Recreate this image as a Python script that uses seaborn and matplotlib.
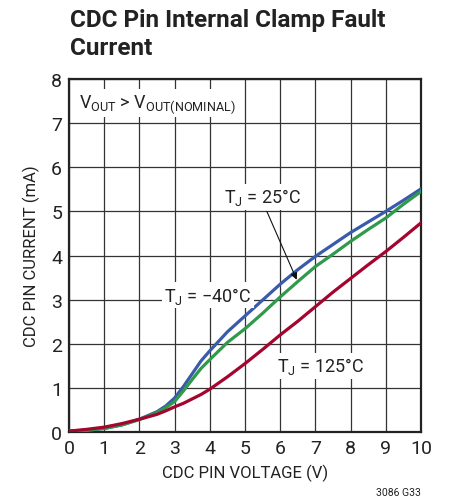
import matplotlib
matplotlib.use("Agg")
import matplotlib.pyplot as plt
import seaborn as sns
import pandas as pd

# Data
voltage = [0, 0.5, 1, 1.5, 2, 2.5, 2.75, 3, 3.25, 3.5, 3.75, 4, 4.5, 5, 5.5, 6, 6.5, 7, 7.5, 8, 8.5, 9, 9.5, 10]
i_25c = [0.02, 0.04, 0.08, 0.16, 0.29, 0.46, 0.59, 0.77, 1.03, 1.32, 1.61, 1.84, 2.27, 2.63, 2.99, 3.35, 3.68, 3.98, 4.25, 4.52, 4.76, 5.0, 5.25, 5.51]
i_m40c = [0.02, 0.04, 0.08, 0.16, 0.28, 0.44, 0.55, 0.69, 0.93, 1.19, 1.44, 1.64, 2.03, 2.34, 2.69, 3.06, 3.41, 3.75, 4.03, 4.32, 4.59, 4.85, 5.16, 5.45]
i_125c = [0.02, 0.06, 0.11, 0.19, 0.29, 0.40, 0.48, 0.57, 0.65, 0.75, 0.85, 0.97, 1.25, 1.55, 1.87, 2.2, 2.51, 2.84, 3.17, 3.48, 3.79, 4.09, 4.41, 4.74]
series_names = ["TJ = 25°C", "TJ = −40°C", "TJ = 125°C"]
colors = ["#3a5aaa", "#2f9a4a", "#a3052e"]
x_ticks = list(range(0, 11))
y_ticks = list(range(0, 9))

df = pd.concat([
    pd.DataFrame({"V": voltage, "I": vals, "T": name})
    for vals, name in zip([i_25c, i_m40c, i_125c], series_names)
])

sns.set_theme(style="white")
FONT = ["Roboto", "DejaVu Sans"]
plt.rcParams["font.family"] = FONT
plt.rcParams["mathtext.fontset"] = "custom"
plt.rcParams["mathtext.rm"] = "Roboto"

fig = plt.figure(figsize=(4.51, 5.02), dpi=100)
ax = fig.add_axes([69 / 451, 69 / 502, 352 / 451, 353 / 502])

sns.lineplot(data=df, x="V", y="I", hue="T", hue_order=series_names,
             palette=colors, linewidth=2.3, ax=ax, legend=False, zorder=3)

ax.set_xlim(0, 10)
ax.set_ylim(0, 8)
ax.set_xticks(x_ticks)
ax.set_yticks(y_ticks)
ax.set_xticklabels([str(t) for t in x_ticks], fontsize=14)
ax.set_yticklabels([str(t) for t in y_ticks], fontsize=14)
ax.tick_params(axis="both", length=0, pad=5, colors="#222222")
ax.grid(True, color="#333333", linewidth=0.9)
for s in ax.spines.values():
    s.set_color("#222222")
    s.set_linewidth(1.6)
    s.set_visible(True)
ax.set_xlabel("CDC PIN VOLTAGE (V)", fontsize=12, color="#222222", labelpad=5)
ax.set_ylabel("CDC PIN CURRENT (mA)", fontsize=12, color="#222222", labelpad=8)

box = dict(facecolor="white", edgecolor="none", pad=2)
ax.text(0.28, 7.45, r"V$_\mathregular{OUT}$ > V$_\mathregular{OUT(NOMINAL)}$",
        fontsize=13, color="#222222", va="center", ha="left", bbox=box, zorder=4)
ax.text(5.5, 5.33, r"T$_\mathregular{J}$ = 25°C", fontsize=13, color="#222222",
        va="center", ha="center", bbox=box, zorder=4)
ax.text(3.95, 3.1, r"T$_\mathregular{J}$ = −40°C", fontsize=13, color="#222222",
        va="center", ha="center", bbox=box, zorder=4)
ax.text(7.15, 1.5, r"T$_\mathregular{J}$ = 125°C", fontsize=13, color="#222222",
        va="center", ha="center", bbox=box, zorder=4)
ax.annotate("", xy=(6.47, 3.45), xytext=(5.62, 5.0),
            arrowprops=dict(arrowstyle="-|>", color="#111111", lw=0.8,
                            mutation_scale=10, shrinkA=0, shrinkB=0), zorder=5)

fig.text(70 / 451, 1 - 9 / 502, "CDC Pin Internal Clamp Fault\nCurrent",
         fontsize=17.5, fontweight="bold", color="#222222", ha="left", va="top",
         linespacing=1.3)
fig.text(421 / 451, 1 - 493 / 502, "3086 G33", fontsize=7.5, color="#222222",
         ha="right", va="center")

fig.savefig("out.png", dpi=100)
